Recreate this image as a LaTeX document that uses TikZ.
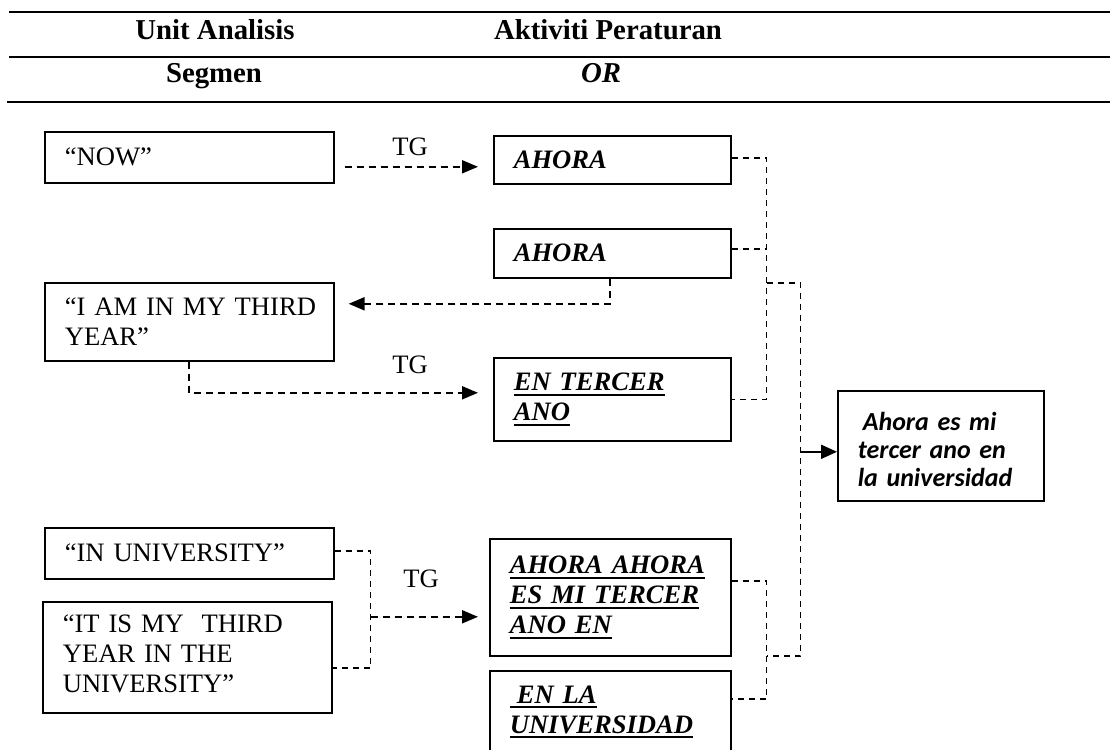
\documentclass[tikz,border=0pt]{standalone}
\usepackage{fontspec}
\setmainfont{Liberation Serif}
\newfontfamily\calibrifont{Carlito}
\usetikzlibrary{arrows.meta,calc}
% underline drawn as a thick rule under the whole line
\newcommand\ulx[1]{\leavevmode\setbox0=\hbox{#1}\rlap{\rule[-5pt]{\wd0}{2pt}}\box0}

\begin{document}
\begin{tikzpicture}[x=1pt,y=1pt,
  rulel/.style={line width=2pt},
  head/.style={font=\fontsize{28.8}{32}\selectfont\bfseries, inner sep=0pt, anchor=base},
  box/.style={draw, line width=1.6pt, anchor=north west, inner xsep=20pt, inner ysep=3pt,
              align=left, font=\fontsize{26.6}{30}\selectfont},
  spbox/.style={box, font=\fontsize{26.6}{30}\selectfont\bfseries\itshape},
  resbox/.style={box, font=\fontsize{26}{28}\selectfont\calibrifont\bfseries\itshape},
  dline/.style={line width=1.6pt, dash pattern=on 6pt off 5pt},
  darrow/.style={line width=2pt, dash pattern=on 7pt off 5pt, -{Triangle[length=16pt,width=13pt]}},
  sarrow/.style={line width=2pt, -{Triangle[length=16pt,width=14pt]}},
  tg/.style={font=\fontsize{26.6}{30}\selectfont, inner sep=0pt, anchor=base}
]
\useasboundingbox (0,0) rectangle (1110,-749);
\clip (0,0) rectangle (1110,-749);

% table header
\draw[rulel] (9,-12) -- (1110,-12);
\draw[rulel] (9,-57) -- (1110,-57);
\draw[rulel] (7,-102) -- (1110,-102);
\node[head] (hunit) at (215,-40) {Unit Analisis};
\node[head] (hakt)  at (608,-40) {Aktiviti Peraturan};
\node[head] (hseg)  at (214,-83) {Segmen};
\node[head, font=\fontsize{28.8}{32}\selectfont\bfseries\itshape] (hor) at (601,-83) {OR};

% source segments
\node[box, minimum width=289pt, minimum height=51pt, text width=249pt] (now) at (44,-131) {\mbox{“NOW”}};
\node[box, minimum width=289pt, minimum height=78pt, text width=249pt] (iam) at (44,-282) {\mbox{“I AM IN MY THIRD}\\\mbox{YEAR”}};
\node[box, minimum width=289pt, minimum height=51pt, text width=249pt] (inuni) at (44,-527) {\mbox{“IN UNIVERSITY”}};
\node[box, minimum width=289pt, minimum height=111pt, text width=249pt] (itis) at (42,-601) {\mbox{“IT IS MY\ \ THIRD}\\\mbox{YEAR IN THE}\\\mbox{UNIVERSITY”}\rule[-8pt]{0pt}{8pt}};

% target segments
\node[spbox, minimum width=237pt, minimum height=48pt, text width=197pt] (ah1) at (493,-135) {AHORA};
\node[spbox, minimum width=237pt, minimum height=49pt, text width=197pt] (ah2) at (493,-228) {AHORA};
\node[spbox, minimum width=237pt, minimum height=83pt, text width=197pt] (entc) at (493,-357) {\ulx{EN TERCER}\\\ulx{ANO}};
\node[spbox, minimum width=241pt, minimum height=117pt, text width=201pt] (ahah) at (489,-538) {\ulx{AHORA AHORA}\\\ulx{ES MI TERCER}\\\ulx{ANO EN}};
\node[spbox, minimum width=241pt, inner ysep=15pt, text width=201pt] (enla) at (489,-670) {\ulx{\hspace*{7pt}EN LA}\\\ulx{UNIVERSIDAD}\rule[-40pt]{0pt}{40pt}};

% result
\node[resbox, minimum width=206pt, minimum height=110pt, text width=166pt] (fin) at (837,-390) {\rule{0pt}{26pt}\hspace*{5pt}Ahora es mi\\\mbox{tercer ano en}\\\mbox{la universidad}};

% TG labels
\node[tg] (tg1) at (410,-155) {TG};
\node[tg] (tg2) at (410,-373) {TG};
\node[tg] (tg3) at (421,-587) {TG};

% left-to-right links
\draw[darrow] ($(now.east)+(10,-9.5)$) -- ($(ah1.west)+(-15,-7)$);
\draw[darrow] ([xshift=-2.5pt]ah2.south) |- ($(iam.east)+(14,18)$);
\draw[darrow] (iam.south) |- ($(entc.west)+(-15,6.5)$);
\draw[dline] ([yshift=2.5pt]inuni.east) -- ++(36,0) coordinate (jl) |- ([yshift=-10.5pt]itis.east);
\coordinate (ahin) at ($(ahah.west)+(-11,-19.5)$);
\draw[darrow] (jl |- ahin) -- (ahin);

% right-hand collecting lines
\draw[dline] ([yshift=2pt]ah1.east) -- ++(35,0) coordinate (jr1) |- (entc.east);
\draw[dline] ([yshift=4.5pt]ah2.east) -- ++(35,0);
\coordinate (jr2) at ($(jr1)+(0,-125)$);
\draw[dline] ([yshift=16.5pt]ahah.east) -- ++(35,0) coordinate (jr3) |- ($(enla.north east)+(0,-29)$);
\coordinate (jr4) at ($(jr3)+(0,-75)$);
\draw[dline] (jr2) -- ++(34,0) coordinate (jr5) |- (jr4);
\coordinate (finin) at ($(fin.west)+(0,-6)$);
\draw[sarrow] (jr5 |- finin) -- (finin);
\end{tikzpicture}
\end{document}
